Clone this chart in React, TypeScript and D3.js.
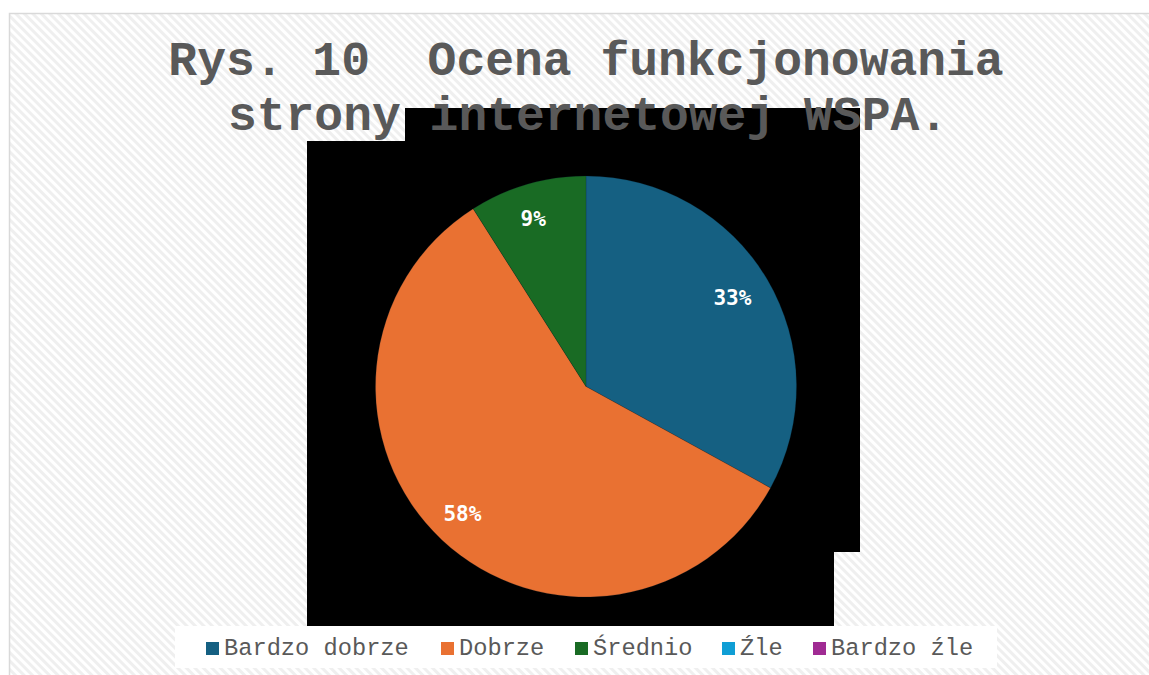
import React from "react";
import * as d3 from "d3";

const categories = ["Bardzo dobrze", "Dobrze", "Średnio", "Źle", "Bardzo źle"];
const values = [33, 58, 9, 0, 0];
const colors = ["#156082", "#E97132", "#196B24", "#0F9ED5", "#A02B93"];
const titleLines = ["Rys. 10  Ocena funkcjonowania", "strony internetowej WSPA."];
const legendX = [206, 441, 575, 722, 813];

const W = 1149;
const H = 675;

export default function App() {
  const cx = 586;
  const cy = 386.5;
  const r = 210.5;
  const pie = d3.pie<number>().sort(null).value((d) => d)(values);
  const arc = d3.arc<d3.PieArcDatum<number>>().innerRadius(0).outerRadius(r);
  const labelArc = d3
    .arc<d3.PieArcDatum<number>>()
    .innerRadius(r * 0.83)
    .outerRadius(r * 0.83);
  const total = d3.sum(values);

  return (
    <svg
      width={W}
      height={H}
      style={{ position: "absolute", left: 0, top: 0 }}
    >
      <defs>
        <pattern
          id="hatch"
          width={6}
          height={6}
          patternUnits="userSpaceOnUse"
          patternTransform="rotate(-45)"
        >
          <rect width={6} height={6} fill="#ffffff" />
          <rect width={3} height={6} fill="#efefef" />
        </pattern>
      </defs>
      <rect x={0} y={0} width={W} height={H} fill="#ffffff" />
      <rect
        x={9.5}
        y={13.5}
        width={W + 20}
        height={H + 20}
        fill="url(#hatch)"
        stroke="#d9d9d9"
        strokeWidth={1.5}
      />
      {/* black artifact rectangles */}
      <rect x={405} y={108} width={455} height={444} fill="#000" />
      <rect x={307} y={141} width={527} height={489} fill="#000" />
      {/* title */}
      <g
        fontFamily="'Liberation Mono', 'Courier New', monospace"
        fontWeight="bold"
        fontSize={48}
        fill="#595959"
        textAnchor="middle"
        style={{ whiteSpace: "pre" }}
      >
        <text x={586} y={75} xmlSpace="preserve">
          {titleLines[0]}
        </text>
        <text x={588} y={130} xmlSpace="preserve">
          {titleLines[1]}
        </text>
      </g>
      {/* pie */}
      <g transform={`translate(${cx},${cy})`}>
        {pie.map((p, i) =>
          p.value > 0 ? (
            <path key={i} d={arc(p) || ""} fill={colors[i]} stroke="#0b2233" strokeWidth={0.5} strokeOpacity={0.4} />
          ) : null
        )}
        {pie.map((p, i) => {
          if (p.value <= 0) return null;
          const [lx, ly] = labelArc.centroid(p);
          return (
            <text
              key={"l" + i}
              x={lx - 4}
              y={ly}
              dy="0.36em"
              textAnchor="middle"
              fill="#ffffff"
              fontFamily="'DejaVu Sans Mono', monospace"
              fontWeight="bold"
              fontSize={21}
            >
              {Math.round((p.value / total) * 100) + "%"}
            </text>
          );
        })}
      </g>
      {/* legend */}
      <rect x={175} y={626} width={822} height={42} fill="#ffffff" />
      <g
        fontFamily="'Liberation Mono', 'Courier New', monospace"
        fontSize={23.7}
        fill="#595959"
      >
        {categories.map((c, i) => (
          <g key={c}>
            <rect x={legendX[i]} y={642} width={13} height={13} fill={colors[i]} />
            <text x={legendX[i] + 18} y={655}>
              {c}
            </text>
          </g>
        ))}
      </g>
    </svg>
  );
}
